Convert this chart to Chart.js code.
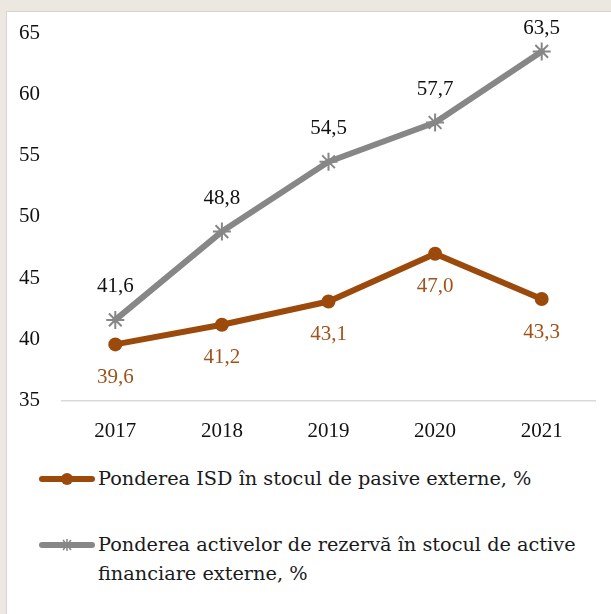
<!DOCTYPE html>
<html>
<head>
<meta charset="utf-8">
<script src="https://cdn.jsdelivr.net/npm/chart.js@4.4.1/dist/chart.umd.min.js"></script>
<style>
  html, body { margin: 0; padding: 0; }
  body { width: 611px; height: 614px; background: #ece7e1; position: relative; overflow: hidden;
         font-family: "Liberation Serif", "DejaVu Serif", serif; }
  #panel { position: absolute; left: 6px; top: 11px; width: 605px; height: 603px; background: #fff;
           border-left: 1px solid #d8d4cf; border-top: 1px solid #d8d4cf; box-sizing: border-box; }
  #wrap { position: absolute; left: 6px; top: 11px; width: 605px; height: 451px; }
  .leg { position: absolute; left: 39px; font-size: 19.3px; color: #1a1a1a; line-height: 29px;
         font-family: "DejaVu Serif", "Liberation Serif", serif; }
  .leg .mk { position: absolute; left: 0; width: 56px; height: 12px; }
  .leg .tx { position: absolute; left: 59px; white-space: nowrap; }
</style>
</head>
<body>
<div id="panel"></div>
<div id="wrap"><canvas id="c" width="605" height="451"></canvas></div>

<div class="leg" style="top:473px;">
  <svg class="mk" style="top:0px;" width="56" height="12" viewBox="0 0 56 12">
    <line x1="3" y1="6" x2="53" y2="6" stroke="#9c4a0c" stroke-width="6" stroke-linecap="round"/>
    <circle cx="28" cy="6" r="6" fill="#9c4a0c"/>
  </svg>
  <span class="tx" id="leg1" style="top:-9px;"></span>
</div>
<div class="leg" style="top:539px;">
  <svg class="mk" style="top:0px;" width="56" height="12" viewBox="0 0 56 12">
    <line x1="3" y1="6" x2="53" y2="6" stroke="#878787" stroke-width="6" stroke-linecap="round"/>
    <g stroke="#878787" stroke-width="1.5">
      <line x1="24" y1="1" x2="32" y2="11"/><line x1="32" y1="1" x2="24" y2="11"/>
      <line x1="28" y1="0" x2="28" y2="12"/>
    </g>
  </svg>
  <span class="tx" id="leg2" style="top:-9px;"></span>
</div>

<script>
const categories = ["2017", "2018", "2019", "2020", "2021"];
const isdValues = [39.6, 41.2, 43.1, 47.0, 43.3];
const reserveValues = [41.6, 48.8, 54.5, 57.7, 63.5];
const seriesNames = [
  "Ponderea ISD în stocul de pasive externe, %",
  ["Ponderea activelor de rezervă în stocul de active", "financiare externe, %"]
];
const yTicks = [35, 40, 45, 50, 55, 60, 65];

document.getElementById('leg1').textContent = seriesNames[0];
const l2 = document.getElementById('leg2');
l2.appendChild(document.createTextNode(seriesNames[1][0]));
l2.appendChild(document.createElement('br'));
l2.appendChild(document.createTextNode(seriesNames[1][1]));

const FONT = '"Liberation Serif", "DejaVu Serif", serif';
const BROWN = '#9c4a0c';
const GRAY = '#878787';

const labelPlugin = {
  id: 'valueLabels',
  afterDatasetsDraw(chart) {
    const ctx = chart.ctx;
    ctx.save();
    ctx.font = '21px ' + FONT;
    ctx.textAlign = 'center';
    ctx.textBaseline = 'middle';
    chart.data.datasets.forEach((ds, di) => {
      const meta = chart.getDatasetMeta(di);
      meta.data.forEach((pt, i) => {
        const txt = ds.data[i].toFixed(1).replace('.', ',');
        let y;
        if (ds.labelPos === 'below') {
          y = pt.y + 33;
          ctx.fillStyle = '#a0521a';
        } else {
          y = Math.max(pt.y - 33, 17.5);
          ctx.fillStyle = '#111';
        }
        ctx.fillText(txt, pt.x, y);
      });
    });
    ctx.restore();
  }
};

new Chart(document.getElementById('c'), {
  type: 'line',
  data: {
    labels: categories,
    datasets: [
      {
        label: seriesNames[0],
        data: isdValues,
        borderColor: BROWN,
        backgroundColor: BROWN,
        borderWidth: 6,
        borderCapStyle: 'round',
        borderJoinStyle: 'round',
        pointStyle: 'circle',
        pointRadius: 7,
        pointBorderWidth: 0,
        pointBackgroundColor: BROWN,
        tension: 0,
        labelPos: 'below'
      },
      {
        label: seriesNames[1].join(' '),
        data: reserveValues,
        borderColor: GRAY,
        backgroundColor: GRAY,
        borderWidth: 6,
        borderCapStyle: 'round',
        borderJoinStyle: 'round',
        pointStyle: 'star',
        pointRadius: 9,
        pointBorderWidth: 2,
        pointBorderColor: GRAY,
        tension: 0,
        labelPos: 'above'
      }
    ]
  },
  options: {
    responsive: false,
    animation: false,
    devicePixelRatio: 1,
    layout: { padding: { left: 0, right: 16, top: 22, bottom: 0 } },
    plugins: { legend: { display: false }, tooltip: { enabled: false } },
    scales: {
      x: {
        offset: true,
        grid: { display: false, drawTicks: false },
        border: { display: true, color: '#d9d9d9', width: 1.5 },
        ticks: { color: '#111', font: { family: FONT, size: 21 }, padding: 18 }
      },
      y: {
        min: 35, max: 65,
        afterFit(scale) { scale.width = 56; scale.paddingTop = 0; scale.paddingBottom = 0; },
        afterBuildTicks(scale) { scale.ticks = yTicks.map(v => ({ value: v })); },
        grid: { display: false, drawTicks: false },
        border: { display: false },
        ticks: { color: '#111', font: { family: FONT, size: 21 }, padding: 22 }
      }
    }
  },
  plugins: [labelPlugin]
});
</script>
</body>
</html>
